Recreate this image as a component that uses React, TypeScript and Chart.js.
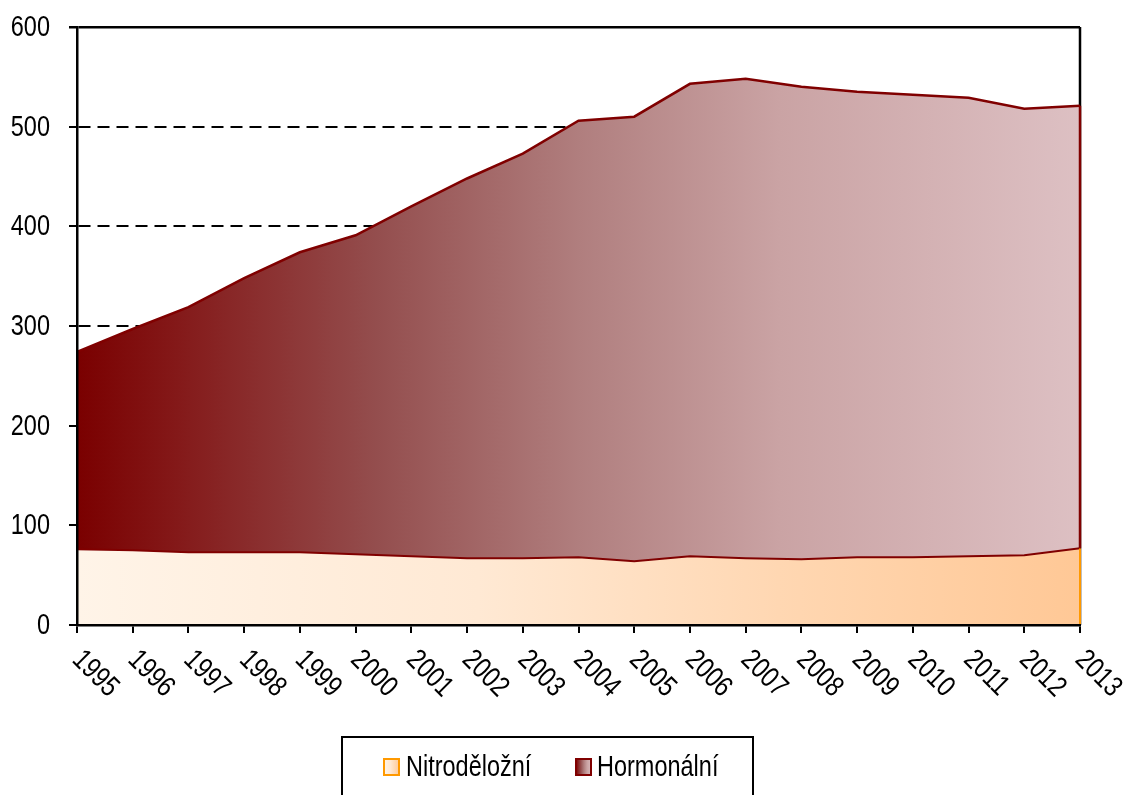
import React, { useEffect, useRef } from 'react';
import { Chart, registerables } from 'chart.js';

Chart.register(...registerables);

const years = ['1995', '1996', '1997', '1998', '1999', '2000', '2001', '2002', '2003', '2004', '2005', '2006', '2007', '2008', '2009', '2010', '2011', '2012', '2013'];
const nitroValues = [76, 75, 73, 73, 73, 71, 69, 67, 67, 68, 64, 69, 67, 66, 68, 68, 69, 70, 77];
const hormonValues = [198, 222, 246, 275, 301, 320, 351, 381, 406, 438, 446, 474, 481, 474, 467, 464, 460, 448, 444];
const seriesNames = ['Nitroděložní', 'Hormonální'];
const yTickValues = [0, 100, 200, 300, 400, 500, 600];
const yMin = 0;
const yMax = 600;
const yStep = 100;

const FONT = '"Liberation Sans", Arial, sans-serif';
const FONT_SIZE = 29;
const NARROW = 0.81;
const DARK_RED = '#800000';
const ORANGE = '#ff9900';

function hormonGradient(c: CanvasRenderingContext2D, x0: number, x1: number) {
  const g = c.createLinearGradient(x0, 0, x1, 0);
  g.addColorStop(0, 'rgb(122,0,0)');
  g.addColorStop(0.1, 'rgb(132,25,25)');
  g.addColorStop(0.3, 'rgb(148,78,78)');
  g.addColorStop(0.5, 'rgb(176,126,126)');
  g.addColorStop(0.7, 'rgb(202,163,164)');
  g.addColorStop(1, 'rgb(221,192,195)');
  return g;
}

function nitroGradient(c: CanvasRenderingContext2D, x0: number, x1: number) {
  const g = c.createLinearGradient(x0, 0, x1, 0);
  g.addColorStop(0, 'rgb(255,244,232)');
  g.addColorStop(0.4, 'rgb(255,233,212)');
  g.addColorStop(0.7, 'rgb(255,215,178)');
  g.addColorStop(1, 'rgb(255,200,150)');
  return g;
}

function narrowText(ctx: CanvasRenderingContext2D, text: string, x: number, y: number, angle: number) {
  ctx.save();
  ctx.translate(x, y);
  if (angle) ctx.rotate(angle);
  ctx.scale(NARROW, 1);
  ctx.fillText(text, 0, 0);
  ctx.restore();
}

const decor = {
  id: 'decor',
  beforeDatasetsDraw(chart: any) {
    const { ctx, chartArea } = chart;
    ctx.save();
    ctx.strokeStyle = '#000';
    ctx.lineWidth = 2.5;
    ctx.beginPath();
    ctx.moveTo(chartArea.right, chartArea.top);
    ctx.lineTo(chartArea.right, chartArea.bottom);
    ctx.stroke();
    ctx.restore();
  },
  afterDatasetsDraw(chart: any) {
    const { ctx } = chart;
    const xs = chart.scales.x;
    const ys = chart.scales.y;
    const last = years.length - 1;
    const px = xs.getPixelForValue(last);
    const n = nitroValues[last];
    const h = hormonValues[last];
    ctx.save();
    ctx.lineWidth = 2;
    ctx.strokeStyle = ORANGE;
    ctx.beginPath();
    ctx.moveTo(px, ys.getPixelForValue(0));
    ctx.lineTo(px, ys.getPixelForValue(n));
    ctx.stroke();
    ctx.strokeStyle = DARK_RED;
    ctx.lineWidth = 2.5;
    ctx.beginPath();
    ctx.moveTo(px, ys.getPixelForValue(n));
    ctx.lineTo(px, ys.getPixelForValue(n + h));
    ctx.stroke();
    ctx.restore();
  },
  afterDraw(chart: any) {
    const { ctx } = chart;
    const xs = chart.scales.x;
    const ys = chart.scales.y;
    ctx.save();
    ctx.font = `${FONT_SIZE}px ${FONT}`;
    ctx.fillStyle = '#000';

    // y labels
    ctx.textAlign = 'right';
    ctx.textBaseline = 'middle';
    yTickValues.forEach((v) => {
      narrowText(ctx, String(v), 50, ys.getPixelForValue(v) + 1, 0);
    });

    // x labels
    ctx.textAlign = 'left';
    ctx.textBaseline = 'alphabetic';
    years.forEach((lab, i) => {
      const px = xs.getPixelForValue(i);
      narrowText(ctx, lab, px - 6, 661, Math.PI / 4);
    });

    // legend
    ctx.lineWidth = 2;
    ctx.strokeStyle = '#000';
    ctx.strokeRect(342, 737, 411, 80);
    const items = [
      { x: 384, tx: 406, name: seriesNames[0], border: ORANGE, grad: nitroGradient },
      { x: 576, tx: 597, name: seriesNames[1], border: DARK_RED, grad: hormonGradient },
    ];
    items.forEach((it) => {
      ctx.fillStyle = it.grad(ctx, it.x, it.x + 16);
      ctx.fillRect(it.x, 759, 15, 16);
      ctx.strokeStyle = it.border;
      ctx.lineWidth = 2;
      ctx.strokeRect(it.x, 759, 15, 16);
      ctx.fillStyle = '#000';
      narrowText(ctx, it.name, it.tx, 776, 0);
    });
    ctx.restore();
  },
};

export default function App() {
  const ref = useRef<HTMLCanvasElement | null>(null);

  useEffect(() => {
    if (!ref.current) return;
    const chart = new Chart(ref.current, {
      type: 'line',
      data: {
        labels: years,
        datasets: [
          {
            label: seriesNames[0],
            data: nitroValues,
            fill: 'origin',
            borderColor: DARK_RED,
            borderWidth: 2,
            pointRadius: 0,
            tension: 0,
            backgroundColor: (c: any) => {
              const ca = c.chart.chartArea;
              if (!ca) return 'rgb(255,227,200)';
              return nitroGradient(c.chart.ctx, ca.left, ca.right);
            },
          },
          {
            label: seriesNames[1],
            data: hormonValues,
            fill: '-1',
            borderColor: DARK_RED,
            borderWidth: 2.5,
            pointRadius: 0,
            tension: 0,
            backgroundColor: (c: any) => {
              const ca = c.chart.chartArea;
              if (!ca) return 'rgb(180,130,130)';
              return hormonGradient(c.chart.ctx, ca.left, ca.right);
            },
          },
        ],
      },
      options: {
        responsive: false,
        animation: false,
        devicePixelRatio: 1,
        layout: { padding: { top: 27, right: 45, left: 0, bottom: 0 } },
        plugins: {
          legend: { display: false },
          tooltip: { enabled: false },
        },
        scales: {
          x: {
            offset: false,
            ticks: { display: false },
            grid: {
              drawOnChartArea: false,
              drawTicks: true,
              tickLength: 8,
              color: '#000',
              lineWidth: 2,
            },
            border: { display: true, color: '#000', width: 2.5, z: 1 },
            afterFit: (s: any) => {
              s.height = 170;
            },
          },
          y: {
            stacked: true,
            min: yMin,
            max: yMax,
            ticks: { stepSize: yStep, display: false },
            grid: {
              color: '#000',
              lineWidth: (c: any) => (c.tick && c.tick.value === yMax ? 2.5 : 2),
              tickLength: 8,
              drawOnChartArea: true,
            },
            border: {
              display: true,
              color: '#000',
              width: 2.5,
              z: 1,
              dash: (c: any) => (c.tick && (c.tick.value === yMax || c.tick.value === yMin) ? [] : [12, 7]),
            },
            afterFit: (s: any) => {
              s.width = 77;
            },
          },
        },
      },
      plugins: [decor],
    });
    return () => chart.destroy();
  }, []);

  return (
    <div style={{ position: 'fixed', left: 0, top: 0, width: 1125, height: 795, background: '#fff' }}>
      <canvas ref={ref} width={1125} height={795} style={{ display: 'block' }} />
    </div>
  );
}
